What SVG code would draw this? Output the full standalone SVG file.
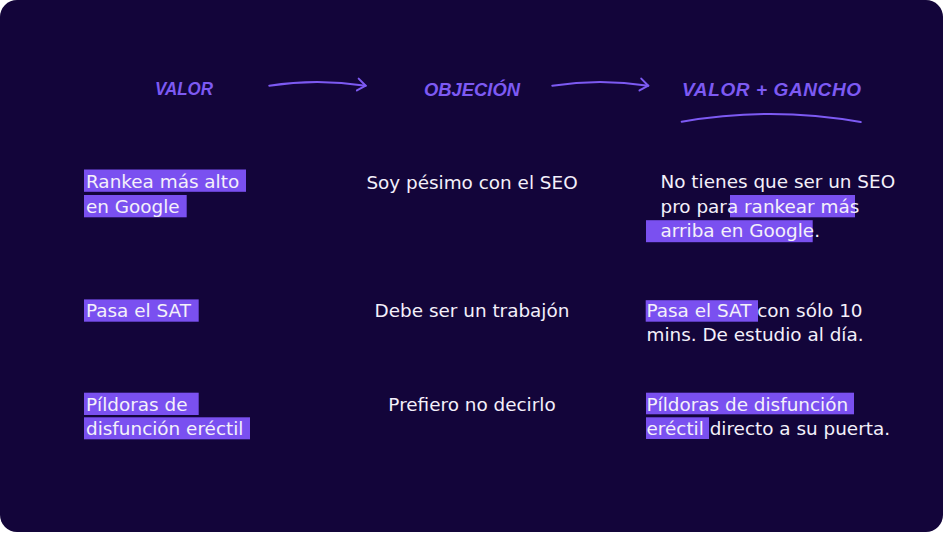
<svg xmlns="http://www.w3.org/2000/svg" width="944" height="533" viewBox="0 0 944 533">
<style>
.bg{fill:#13053a}
.hd{font-family:"Liberation Sans",Arial,sans-serif;font-style:italic;font-weight:bold;font-size:19px;fill:#7d5af3}
.tx{font-family:"DejaVu Sans","Noto Sans",sans-serif;font-size:18.4px;fill:#f4f0fa}
.mid{text-anchor:middle}
.hl{fill:#7a50f0}
.ln{fill:none;stroke:#7d5af3;stroke-width:2;stroke-linecap:round}
</style>
<defs>
<marker id="chev" markerUnits="userSpaceOnUse" viewBox="0 0 20 20" markerWidth="20" markerHeight="20" refX="10" refY="10" orient="auto">
<path d="M2,4 L10,10 L2,16" fill="none" stroke="#7d5af3" stroke-width="2" stroke-linecap="round" stroke-linejoin="round"/>
</marker>
</defs>
<rect width="944" height="533" fill="#ffffff"/>
<rect class="bg" x="0" y="0" width="943" height="532" rx="17"/>

<g id="head-valor">
<text class="hd" x="155" y="94.5" textLength="58" lengthAdjust="spacingAndGlyphs">VALOR</text>
</g>
<g id="head-objecion">
<text class="hd" x="424" y="95.5" textLength="96" lengthAdjust="spacingAndGlyphs">OBJECIÓN</text>
</g>
<g id="head-gancho">
<text class="hd" x="682" y="95.5" textLength="179" lengthAdjust="spacing">VALOR + GANCHO</text>
<path class="ln" d="M681.7,121.7 Q771,106 860.7,122"/>
</g>

<g id="connectors">
<path class="ln" d="M269.3,85.7 Q317,78.5 365.7,85.7" marker-end="url(#chev)"/>
<path class="ln" d="M552.3,85.7 Q600,78.5 648.3,85.7" marker-end="url(#chev)"/>
</g>

<g id="valor-1">
<rect class="hl" x="84" y="169.5" width="162" height="22.3"/>
<rect class="hl" x="84" y="195" width="102.7" height="22.3"/>
<text class="tx" x="86" y="188">Rankea más alto</text>
<text class="tx" x="86" y="213">en Google</text>
</g>
<g id="objecion-1">
<text class="tx mid" x="472" y="189">Soy pésimo con el SEO</text>
</g>
<g id="gancho-1">
<rect class="hl" x="730" y="195" width="125" height="22.3"/>
<rect class="hl" x="646" y="220.2" width="166.7" height="22"/>
<text class="tx" x="660.5" y="188.3">No tienes que ser un SEO</text>
<text class="tx" x="660.5" y="212.8">pro para rankear más</text>
<text class="tx" x="660.5" y="236.5">arriba en Google.</text>
</g>

<g id="valor-2">
<rect class="hl" x="84" y="299.4" width="114.7" height="22.3"/>
<text class="tx" x="86" y="316.7">Pasa el SAT</text>
</g>
<g id="objecion-2">
<text class="tx mid" x="472" y="316.7">Debe ser un trabajón</text>
</g>
<g id="gancho-2">
<rect class="hl" x="645.7" y="300.2" width="112.3" height="21.5"/>
<text class="tx" x="646.5" y="316.7">Pasa el SAT con sólo 10</text>
<text class="tx" x="646.5" y="340.5">mins. De estudio al día.</text>
</g>

<g id="valor-3">
<rect class="hl" x="84" y="392.7" width="114.7" height="22.3"/>
<rect class="hl" x="84" y="417.3" width="166" height="22"/>
<text class="tx" x="86" y="410.5">Píldoras de</text>
<text class="tx" x="86" y="434.5">disfunción eréctil</text>
</g>
<g id="objecion-3">
<text class="tx mid" x="472" y="410.7">Prefiero no decirlo</text>
</g>
<g id="gancho-3">
<rect class="hl" x="646" y="392.7" width="208" height="21.6"/>
<rect class="hl" x="646" y="417.3" width="63" height="21.7"/>
<text class="tx" x="646.5" y="410.5">Píldoras de disfunción</text>
<text class="tx" x="646.5" y="434.5">eréctil directo a su puerta.</text>
</g>
</svg>
